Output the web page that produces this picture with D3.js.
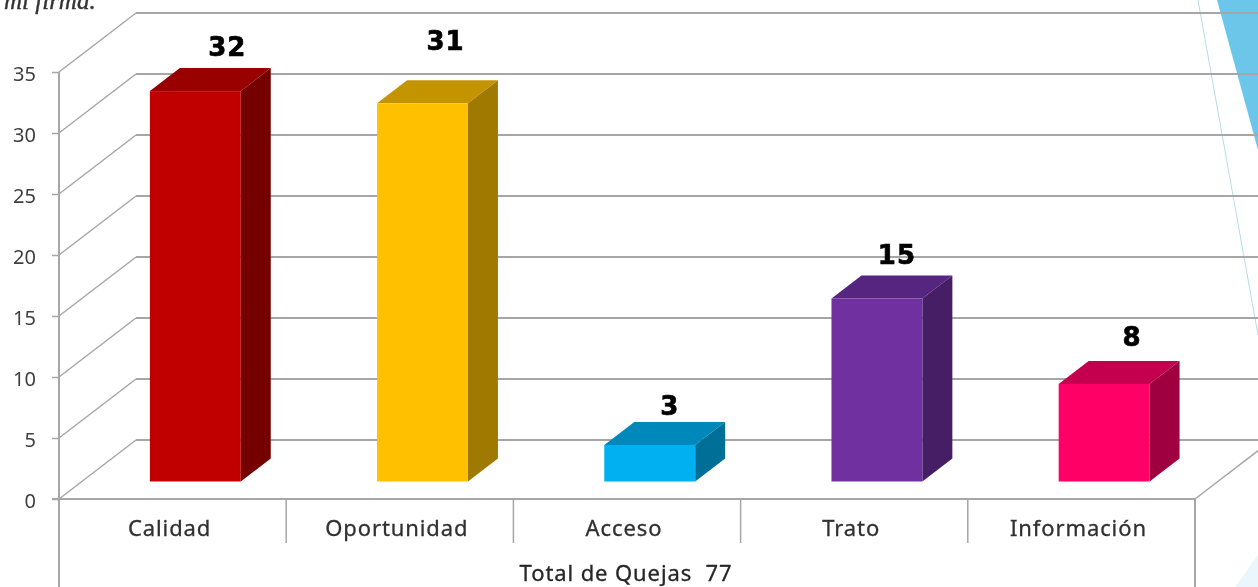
<!DOCTYPE html>
<html>
<head>
<meta charset="utf-8">
<script src="https://cdn.jsdelivr.net/npm/d3@7"></script>
<style>
html, body { margin: 0; padding: 0; background: #fff; overflow: hidden; }
text { font-family: "Noto Sans", sans-serif; }
#chart { filter: blur(0.45px); }
</style>
</head>
<body>
<svg id="chart" width="1258" height="587"></svg>
<script>
var categories = ["Calidad", "Oportunidad", "Acceso", "Trato", "Información"];
var quejas = [32, 31, 3, 15, 8];
var yTicks = [0, 5, 10, 15, 20, 25, 30, 35];
var barFront = ["#c00000", "#ffc000", "#00b0f0", "#7030a0", "#ff0066"];
var barTop = ["#990000", "#c49400", "#0088ba", "#562580", "#c4004e"];
var barSide = ["#750000", "#a07a00", "#006f98", "#451e66", "#9f003f"];
var axisTitle = "Total de Quejas  77";

var svg = d3.select("#chart");

// 3d depth of the walls and of the bars
var wallDx = 77, wallDy = -59;
var barDx = 30, barDy = -23;
var gridColor = "#a6a6a6";

var x = d3.scaleBand().domain(categories).range([59, 1195]);
var y = d3.scaleLinear().domain([0, 35]).range([499, 72]);
// bars stand between the front edge and the wall
var yBar = d3.scaleLinear().domain([0, 35]).range([481.5, 54.5]);

function barLeft(d) { return x(d) + x.bandwidth() * 0.4; }
var barWidth = x.bandwidth() * 0.4;

// value labels were dragged by hand in the original, so they do not line up
var labelShiftX = [32, 23, 20, 20, 28];
var labelShiftY = [12, 30, 7, 12, 15];

// background corner, slide decoration
svg.append("path")
    .attr("d", "M1217,0L1258,150L1258,0Z")
    .style("fill", "#6cc6ea");
svg.append("line")
    .attr("x1", 1198).attr("y1", 0).attr("x2", 1258).attr("y2", 335)
    .style("stroke", "#b5dcea")
    .style("stroke-width", "1px");
svg.append("path")
    .attr("d", "M1235,587L1258,555L1258,587Z")
    .style("fill", "#eaf6fc");
svg.append("text")
    .attr("x", 4).attr("y", 9)
    .style("font-family", "'Liberation Serif', serif")
    .style("font-style", "italic")
    .style("font-size", "25px")
    .style("stroke", "#333")
    .style("stroke-width", "0.4px")
    .style("fill", "#333")
    .text("mi firma.");

// walls
var grid = svg.append("g");
grid.selectAll(".back")
    .data(yTicks)
    .enter().append("line")
    .attr("x1", 59 + wallDx).attr("x2", 1258)
    .attr("y1", function(d) { return y(d) + wallDy; })
    .attr("y2", function(d) { return y(d) + wallDy; })
    .style("stroke", gridColor)
    .style("stroke-width", "2px");
grid.selectAll(".diag")
    .data(yTicks)
    .enter().append("line")
    .attr("x1", 59).attr("x2", 59 + wallDx)
    .attr("y1", function(d) { return y(d); })
    .attr("y2", function(d) { return y(d) + wallDy; })
    .style("stroke", gridColor)
    .style("stroke-width", "1.5px");
grid.append("line")
    .attr("x1", 1195).attr("x2", 1195 + wallDx)
    .attr("y1", y(0)).attr("y2", y(0) + wallDy)
    .style("stroke", gridColor)
    .style("stroke-width", "1.5px");

// left axis
var yAxis = d3.axisLeft(y).tickValues(yTicks).tickSize(7).tickSizeOuter(0);
var yG = svg.append("g")
    .attr("transform", "translate(59,0)")
    .call(yAxis);
yG.select(".domain").remove();
yG.selectAll(".tick line").style("stroke", gridColor).style("stroke-width", "1.5px");
yG.selectAll(".tick text")
    .attr("x", -23)
    .attr("dy", "0.42em")
    .style("font-size", "20px")
    .style("font-family", "'Noto Sans', sans-serif")
    .style("fill", "#404040");

// frame below the floor
svg.append("line")
    .attr("x1", 59).attr("x2", 59).attr("y1", y(35)).attr("y2", 587)
    .style("stroke", gridColor).style("stroke-width", "2px");
svg.append("line")
    .attr("x1", 1195).attr("x2", 1195).attr("y1", y(0)).attr("y2", 587)
    .style("stroke", gridColor).style("stroke-width", "2px");
svg.append("line")
    .attr("x1", 52).attr("x2", 1195).attr("y1", y(0)).attr("y2", y(0))
    .style("stroke", gridColor).style("stroke-width", "2px");

// dividers between categories
svg.selectAll(".divider")
    .data(categories.slice(1))
    .enter().append("line")
    .attr("x1", function(d) { return x(d); })
    .attr("x2", function(d) { return x(d); })
    .attr("y1", y(0)).attr("y2", 543)
    .style("stroke", gridColor)
    .style("stroke-width", "1.5px");

// bars
var bars = svg.selectAll(".bar")
    .data(categories)
    .enter().append("g");

bars.append("path")
    .attr("d", function(d, i) {
        var l = barLeft(d), t = yBar(quejas[i]);
        return "M" + l + "," + t + "l" + barDx + "," + barDy + "h" + barWidth + "l" + (-barDx) + "," + (-barDy) + "Z";
    })
    .style("fill", function(d, i) { return barTop[i]; });
bars.append("path")
    .attr("d", function(d, i) {
        var r = barLeft(d) + barWidth, t = yBar(quejas[i]), b = yBar(0);
        return "M" + r + "," + t + "l" + barDx + "," + barDy + "V" + (b + barDy) + "l" + (-barDx) + "," + (-barDy) + "Z";
    })
    .style("fill", function(d, i) { return barSide[i]; });
bars.append("rect")
    .attr("x", barLeft)
    .attr("y", function(d, i) { return yBar(quejas[i]); })
    .attr("width", barWidth)
    .attr("height", function(d, i) { return yBar(0) - yBar(quejas[i]); })
    .style("fill", function(d, i) { return barFront[i]; });

// value labels
bars.append("text")
    .attr("x", function(d, i) { return barLeft(d) + barWidth / 2 + labelShiftX[i]; })
    .attr("y", function(d, i) { return yBar(quejas[i]) + barDy - labelShiftY[i]; })
    .attr("text-anchor", "middle")
    .style("font-family", "'DejaVu Sans', sans-serif")
    .style("font-size", "26px")
    .style("font-weight", "bold")
    .style("fill", "#000")
    .style("stroke", "#000")
    .style("stroke-width", "0.7px")
    .style("letter-spacing", "1px")
    .text(function(d, i) { return quejas[i]; });

// category labels
svg.selectAll(".cat")
    .data(categories)
    .enter().append("text")
    .attr("x", function(d) { return x(d) + x.bandwidth() / 2 - 3; })
    .attr("y", 536)
    .attr("text-anchor", "middle")
    .style("font-size", "22px")
    .style("letter-spacing", "0.9px")
    .style("fill", "#303030")
    .style("stroke", "#303030")
    .style("stroke-width", "0.3px")
    .text(function(d) { return d; });

svg.append("text")
    .attr("x", 626)
    .attr("y", 581)
    .attr("text-anchor", "middle")
    .style("font-size", "22px")
    .style("letter-spacing", "0.9px")
    .style("fill", "#262626")
    .style("stroke", "#262626")
    .style("stroke-width", "0.3px")
    .style("white-space", "pre")
    .text(axisTitle);
</script>
</body>
</html>
